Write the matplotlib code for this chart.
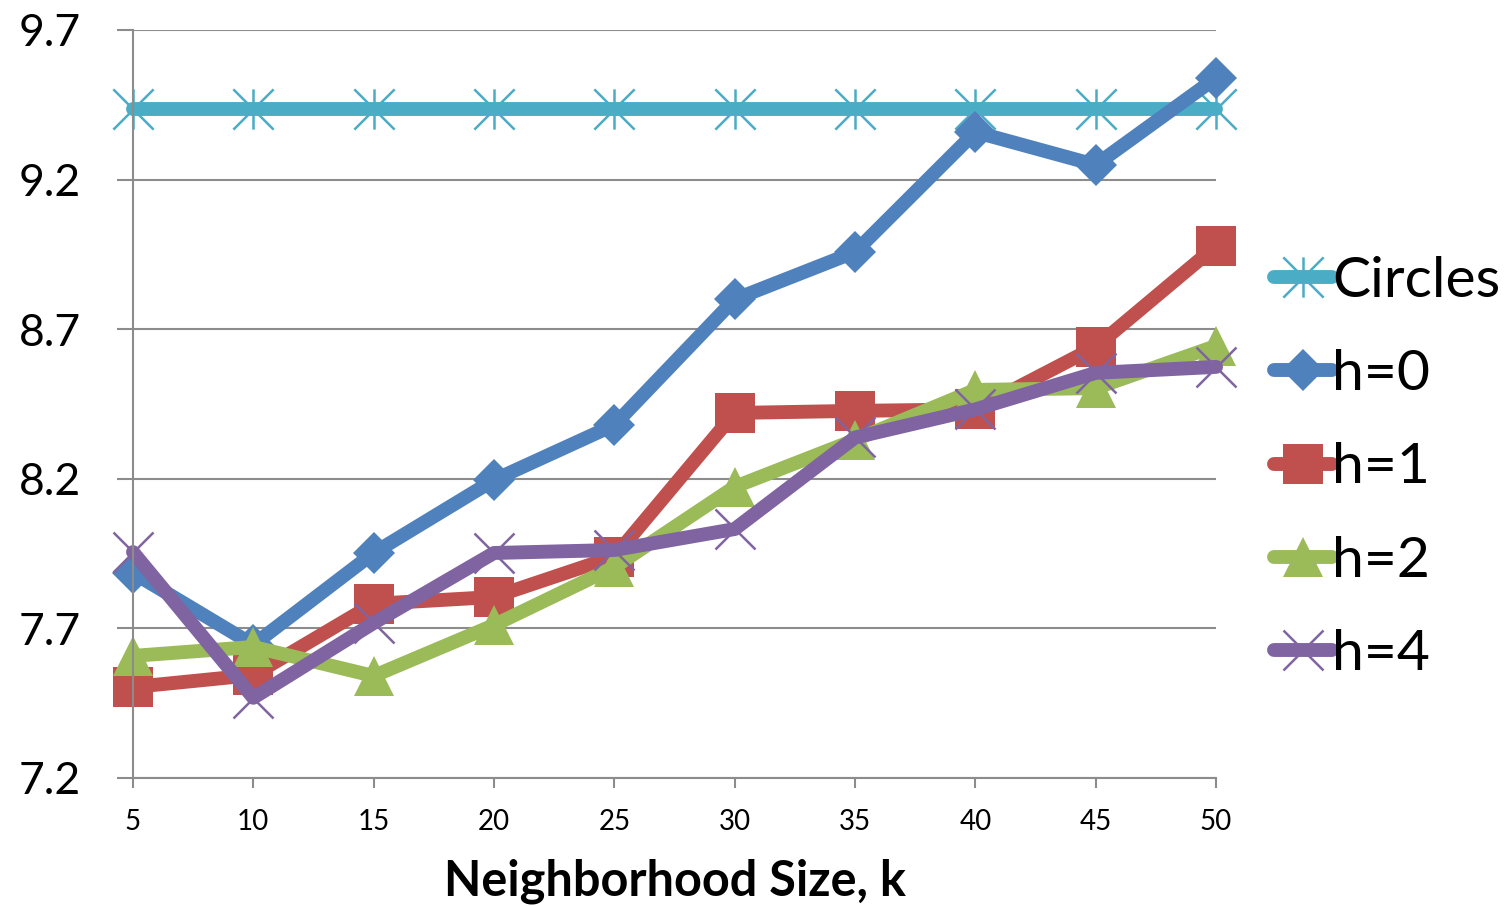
import numpy as np
import matplotlib.pyplot as plt
from matplotlib.path import Path

plt.rcParams['font.family'] = ['Lato', 'DejaVu Sans']

# neighborhood sizes on the x axis
k = [5, 10, 15, 20, 25, 30, 35, 40, 45, 50]

circles = [9.435] * 10
h0 = [7.886, 7.645, 7.952, 8.196, 8.380, 8.800, 8.958, 9.359, 9.249, 9.540]
h1 = [7.504, 7.544, 7.782, 7.805, 7.940, 8.420, 8.427, 8.432, 8.641, 8.978]
h2 = [7.608, 7.638, 7.541, 7.711, 7.905, 8.173, 8.330, 8.497, 8.503, 8.644]
h4 = [7.955, 7.468, 7.718, 7.952, 7.962, 8.032, 8.338, 8.432, 8.554, 8.574]

labels = ["Circles", "h=0", "h=1", "h=2", "h=4"]
colors = ["#4BACC6", "#4F81BD", "#C0504D", "#9BBB59", "#8064A2"]

# star marker: vertical bar plus an x
star = Path([(0, -1), (0, 1), (-1, -1), (1, 1), (-1, 1), (1, -1)],
            [Path.MOVETO, Path.LINETO, Path.MOVETO, Path.LINETO,
             Path.MOVETO, Path.LINETO])

fig = plt.figure(figsize=(15.11, 9.06), dpi=100)
ax = fig.add_axes([0.088, 0.1413, 0.7168, 0.8256])

line_kw = dict(linewidth=10, solid_capstyle='round', solid_joinstyle='round',
               clip_on=False)

ax.plot(k, circles, color=colors[0], marker=star, markersize=29,
        markeredgewidth=1.8, label=labels[0], **line_kw)
ax.plot(k, h0, color=colors[1], marker='D', markersize=21,
        markeredgewidth=0, label=labels[1], **line_kw)
ax.plot(k, h1, color=colors[2], marker='s', markersize=29,
        markeredgewidth=0, label=labels[2], **line_kw)
ax.plot(k, h2, color=colors[3], marker='^', markersize=29,
        markeredgewidth=0, label=labels[3], **line_kw)
ax.plot(k, h4, color=colors[4], marker='x', markersize=29,
        markeredgewidth=1.8, label=labels[4], **line_kw)

ax.set_xlim(5, 50)
ax.set_ylim(7.2, 9.7)
ax.set_xticks(k)
ax.set_yticks([7.2, 7.7, 8.2, 8.7, 9.2, 9.7])
ax.set_yticklabels(["7.2", "7.7", "8.2", "8.7", "9.2", "9.7"])

ax.grid(axis='y', color='#8c8c8c', linewidth=1.5)
ax.set_axisbelow(True)
for s in ['top', 'right']:
    ax.spines[s].set_visible(False)
for s in ['left', 'bottom']:
    ax.spines[s].set_color('#8c8c8c')
    ax.spines[s].set_linewidth(1.5)

ax.tick_params(axis='y', length=11.5, width=1.5, color='#8c8c8c',
               labelsize=32, pad=26)
ax.tick_params(axis='x', length=7, width=1.5, color='#8c8c8c',
               labelsize=20, pad=15)

ax.set_xlabel("Neighborhood Size, k", fontsize=35, fontweight='bold',
              labelpad=17)

leg = ax.legend(loc='center left', bbox_to_anchor=(0.843, 0.4835),
                bbox_transform=fig.transFigure, frameon=False,
                fontsize=41, handlelength=1.03, handletextpad=0.0,
                labelspacing=0.74, borderpad=0, borderaxespad=0)

fig.savefig("out.png", dpi=100)
